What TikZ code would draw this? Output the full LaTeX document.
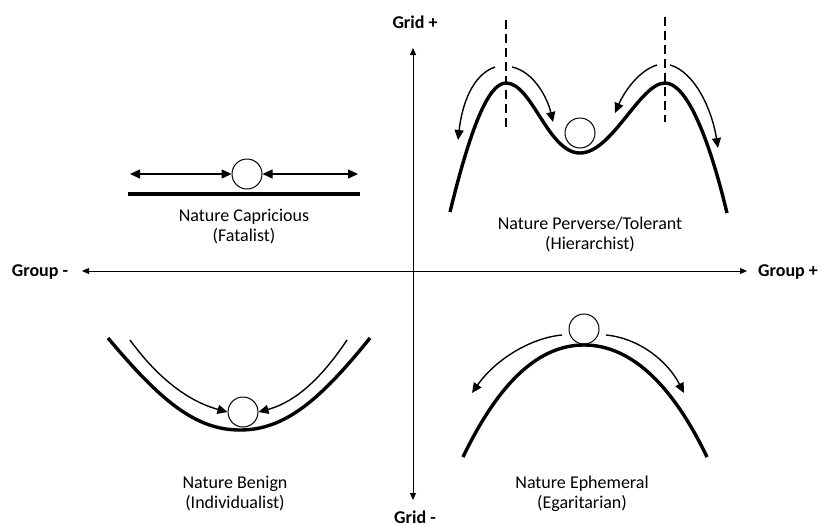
\documentclass[tikz,border=0pt]{standalone}
\usepackage{fontspec}
\setmainfont{Carlito}
\usetikzlibrary{arrows.meta}

\begin{document}
\begin{tikzpicture}[x=0.5pt,y=-0.5pt,
		ball/.style={draw,circle,line width=0.5pt,minimum size=15pt,inner sep=0pt},
		legende/.style={align=center,font=\fontsize{9}{10}\selectfont},
		axlab/.style={font=\fontsize{9}{10}\selectfont\bfseries},
		axe/.style={line width=0.5pt,{Triangle[length=3.5pt,width=3pt]}-{Triangle[length=3.5pt,width=3pt]}},
		sol/.style={line width=1.7pt},
		fl/.style={line width=0.7pt,-{Triangle[length=5pt,width=4.5pt]}},
		fll/.style={line width=0.7pt,{Triangle[length=5pt,width=4.5pt]}-{Triangle[length=5pt,width=4.5pt]}},
		seuil/.style={line width=1pt,dash pattern=on 4.5pt off 2.5pt}]
		\useasboundingbox (0,0) rectangle (822,525);
		%Axes
		\coordinate (W) at (82,271);
		\coordinate (E) at (747,271);
		\coordinate (N) at (413,48);
		\coordinate (S) at (413,500);
		\node[axlab] (Gm) at (40,272) {Group -};
		\node[axlab] (Gp) at (788,272) {Group +};
		\node[axlab] (Gt) at (415,22) {Grid +};
		\node[axlab] (Gb) at (415,517) {Grid -};
		\draw[axe] (W) -- (E);
		\draw[axe] (N) -- (S);
		%Nature Capricious
		\node[ball] (B1) at (247,174) {};
		\coordinate (C1a) at (128,194);
		\coordinate (C1b) at (360,194);
		\coordinate (A1a) at (130,174);
		\coordinate (A1b) at (358,174);
		\draw[sol] (C1a) -- (C1b);
		\draw[fll] (A1a) -- (B1.west);
		\draw[fll] (B1.east) -- (A1b);
		\node[legende] (T1) at (244,227) {Nature Capricious\\(Fatalist)};
		%Nature Perverse/Tolerant
		\node[ball] (B2) at (580,133) {};
		\draw[sol] (450,212) .. controls (470,130) and (488,83) .. (506,83)
			.. controls (532,83) and (548,153) .. (580,153)
			.. controls (612,153) and (640,83) .. (665,83)
			.. controls (685,83) and (707,130) .. (727,213);
		\coordinate (D1a) at (506,20);
		\coordinate (D1b) at (506,127);
		\coordinate (D2a) at (665,17);
		\coordinate (D2b) at (665,122);
		\draw[seuil] (D1a) -- (D1b);
		\draw[seuil] (D2a) -- (D2b);
		\coordinate (A2a) at (495,67);
		\coordinate (A2b) at (458,140);
		\coordinate (A2c) at (512,67);
		\coordinate (A2d) at (553,122);
		\coordinate (A2e) at (657,65);
		\coordinate (A2f) at (615,113);
		\coordinate (A2g) at (670,65);
		\coordinate (A2h) at (718,148);
		\draw[fl] (A2a) .. controls (472,75) and (462,105) .. (A2b);
		\draw[fl] (A2c) .. controls (535,72) and (548,100) .. (A2d);
		\draw[fl] (A2e) .. controls (640,70) and (625,90) .. (A2f);
		\draw[fl] (A2g) .. controls (695,72) and (712,110) .. (A2h);
		\node[legende] (T2) at (590,234) {Nature Perverse/Tolerant\\(Hierarchist)};
		%Nature Benign
		\node[ball] (B3) at (243,412) {};
		\draw[sol] (108,338) .. controls (160,400) and (195,430) .. (240,430)
			.. controls (285,430) and (320,400) .. (370,338);
		\coordinate (A3a) at (130,340);
		\coordinate (A3b) at (347,340);
		\draw[fl] (A3a) .. controls (165,388) and (198,404) .. (B3.west);
		\draw[fl] (A3b) .. controls (315,388) and (288,404) .. (B3.east);
		\node[legende] (T3) at (235,494) {Nature Benign\\(Individualist)};
		%Nature Ephemeral
		\node[ball] (B4) at (584,329) {};
		\draw[sol] (463,457) .. controls (500,380) and (540,345) .. (584,345)
			.. controls (628,345) and (670,380) .. (707,457);
		\coordinate (A4a) at (562,335);
		\coordinate (A4b) at (472,393);
		\coordinate (A4c) at (606,335);
		\coordinate (A4d) at (684,393);
		\draw[fl] (A4a) .. controls (530,338) and (495,360) .. (A4b);
		\draw[fl] (A4c) .. controls (638,338) and (667,360) .. (A4d);
		\node[legende] (T4) at (582,494) {Nature Ephemeral\\(Egaritarian)};
	\end{tikzpicture}
\end{document}
